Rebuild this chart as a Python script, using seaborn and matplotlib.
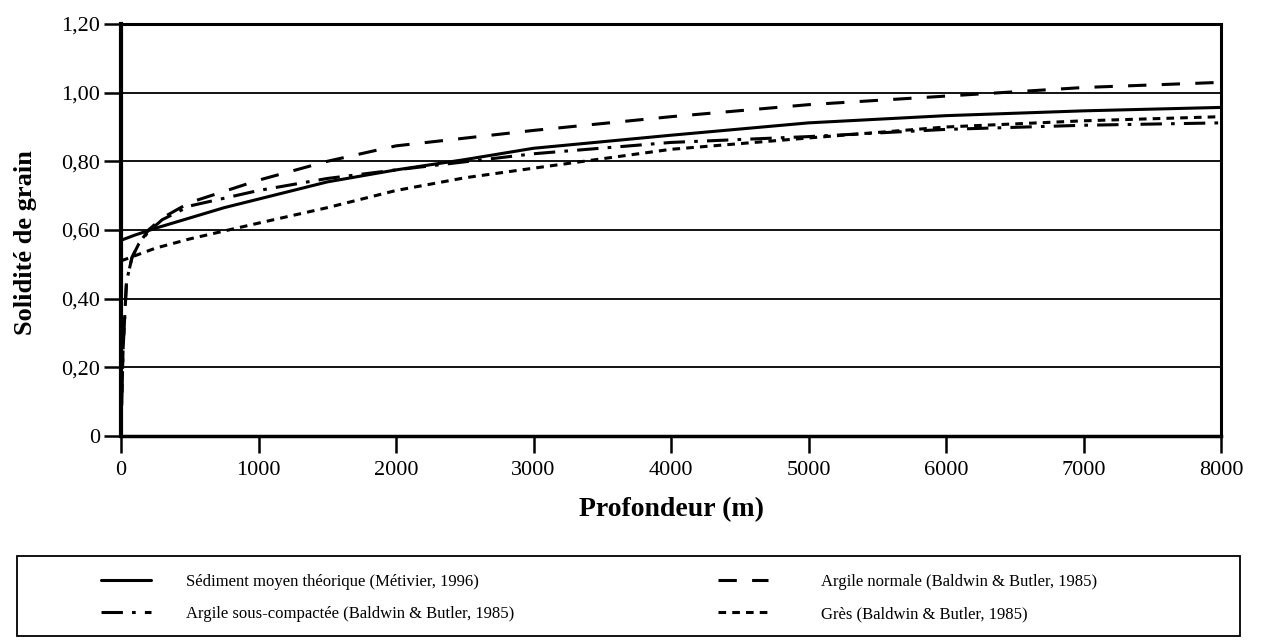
import matplotlib
matplotlib.use("Agg")
import matplotlib.pyplot as plt
import seaborn as sns
import pandas as pd
from matplotlib.patches import Rectangle

# depth (m) and grain solidity
depth_sed = [0, 100, 250, 500, 750, 1000, 1500, 2000, 2500, 3000, 4000, 5000, 6000, 7000, 8000]
sed_moyen = [0.57, 0.585, 0.605, 0.635, 0.665, 0.69, 0.74, 0.775, 0.805, 0.838, 0.876, 0.912, 0.933, 0.947, 0.957]

depth_argile = [0, 15, 40, 80, 130, 200, 300, 500, 1000, 1500, 2000, 3000, 4000, 5000, 6000, 7000, 8000]
argile_normale = [0.0, 0.25, 0.45, 0.52, 0.56, 0.60, 0.635, 0.68, 0.745, 0.80, 0.845, 0.89, 0.93, 0.965, 0.99, 1.015, 1.03]
argile_sous = [0.0, 0.25, 0.45, 0.52, 0.56, 0.595, 0.63, 0.67, 0.715, 0.75, 0.775, 0.822, 0.855, 0.872, 0.893, 0.905, 0.912]

depth_gres = [0, 250, 500, 1000, 1500, 2000, 2500, 3000, 4000, 5000, 6000, 7000, 8000]
gres = [0.51, 0.547, 0.574, 0.62, 0.665, 0.715, 0.752, 0.78, 0.835, 0.868, 0.9, 0.918, 0.93]

labels = ["Sédiment moyen théorique (Métivier, 1996)",
          "Argile sous-compactée (Baldwin & Butler, 1985)",
          "Argile normale (Baldwin & Butler, 1985)",
          "Grès (Baldwin & Butler, 1985)"]

y_ticks = [0, 0.2, 0.4, 0.6, 0.8, 1.0, 1.2]
y_ticklabels = ["0", "0,20", "0,40", "0,60", "0,80", "1,00", "1,20"]
x_ticks = [0, 1000, 2000, 3000, 4000, 5000, 6000, 7000, 8000]

sns.set_theme(style="white")
plt.rcParams['font.family'] = ['Liberation Serif', 'DejaVu Serif']
for k in ["text.color", "axes.labelcolor", "xtick.color", "ytick.color"]:
    plt.rcParams[k] = "black"

fig = plt.figure(figsize=(12.63, 6.41), dpi=100)
ax = fig.add_axes([0.0958, 0.3198, 0.871, 0.6428])

series = [
    (depth_sed, sed_moyen, labels[0], "-"),
    (depth_argile, argile_sous, labels[1], (0, (7, 3, 1.2, 3))),
    (depth_argile, argile_normale, labels[2], (0, (6, 5))),
    (depth_gres, gres, labels[3], (0, (2.5, 2))),
]
for xs, ys, lab, ls in series:
    df = pd.DataFrame({"x": xs, "y": ys})
    sns.lineplot(data=df, x="x", y="y", ax=ax, color="black", linewidth=2.2,
                 linestyle=ls, label=lab)

ax.set_xlim(0, 8000)
ax.set_ylim(0, 1.2)
ax.set_yticks(y_ticks)
ax.set_yticklabels(y_ticklabels)
ax.set_xticks(x_ticks)
ax.set_xticklabels([str(v) for v in x_ticks])
ax.tick_params(axis="both", labelsize=16, colors="black", direction="out", width=1.8,
               bottom=True, left=True)
ax.tick_params(axis="y", length=12, pad=3)
ax.tick_params(axis="x", length=12, pad=6)
ax.yaxis.grid(True, color="black", linewidth=1.3)
ax.xaxis.grid(False)
ax.set_axisbelow(True)
for side, lw in [("left", 3), ("top", 2.2), ("right", 2.2), ("bottom", 2.5)]:
    ax.spines[side].set_visible(True)
    ax.spines[side].set_color("black")
    ax.spines[side].set_linewidth(lw)

ax.set_xlabel("Profondeur (m)", fontsize=20, fontweight="bold")
ax.set_ylabel("Solidité de grain", fontsize=19, fontweight="bold")
ax.xaxis.set_label_coords(0.5, -0.148)
ax.yaxis.set_label_coords(-0.076, 0.47)

handles, labs = ax.get_legend_handles_labels()
ax.get_legend().remove()

frame = Rectangle((17 / 1263, 5 / 641), 1223 / 1263, 80 / 641, transform=fig.transFigure,
                  fill=False, edgecolor="black", linewidth=1.3)
fig.add_artist(frame)
leg_kw = dict(frameon=False, fontsize=12, handlelength=3.0, labelspacing=0.95,
              loc="center left")
fig.legend(handles[:2], labs[:2], handletextpad=2.1,
           bbox_to_anchor=(86 / 1263, 1 - 598 / 641), **leg_kw)
fig.legend(handles[2:], labs[2:], handletextpad=3.2,
           bbox_to_anchor=(703 / 1263, 1 - 598 / 641), **leg_kw)

fig.savefig("out.png", dpi=100)
